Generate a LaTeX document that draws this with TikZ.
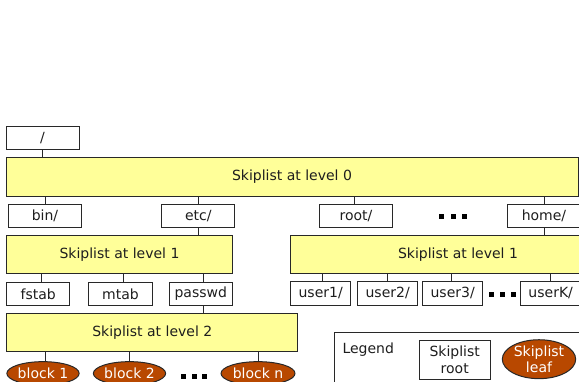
\documentclass[tikz,border=0pt]{standalone}
\usepackage{fontspec}
\setmainfont{DejaVu Sans}
\usetikzlibrary{shapes.geometric}
\definecolor{skipyellow}{RGB}{255,255,153}
\definecolor{leafbrown}{RGB}{184,72,0}
\definecolor{linegray}{RGB}{40,40,40}
\definecolor{textgray}{RGB}{30,30,30}
\tikzset{
  every node/.style={font=\fontsize{14}{16.7}\selectfont, text=textgray, inner sep=0pt},
  entrybox/.style={draw=linegray, line width=1pt, fill=white, minimum height=23.4pt},
  levelbox/.style={draw=linegray, line width=1pt, fill=skipyellow},
  leafnode/.style={ellipse, draw=linegray, line width=1pt, fill=leafbrown, text=white},
  conn/.style={draw=linegray, line width=1pt},
  dotsq/.style={fill=black, minimum size=5pt, draw=none},
}
\begin{document}
\begin{tikzpicture}[x=1pt,y=-1pt]
\useasboundingbox (0,0) rectangle (579,381);
\clip (0,0) rectangle (579,381);
% top level
\node[entrybox, minimum width=73pt] (rootdir) at (42.5,137.7) {/};
\node[levelbox, minimum width=572pt, minimum height=39pt] (L0) at (292,176.5) {Skiplist at level 0};
% level 0 entries
\node[entrybox, minimum width=73.4pt] (bin) at (45,215.7) {bin/};
\node[entrybox, minimum width=72.7pt] (etc) at (198.3,215.7) {etc/};
\node[entrybox, minimum width=73.4pt] (rootd) at (356,215.7) {root/};
\node[entrybox, minimum width=73pt] (home) at (544,215.7) {home/};
\node[dotsq] (d0a) at (441.8,216.5) {};
\node[dotsq] (d0b) at (453.3,216.5) {};
\node[dotsq] (d0c) at (464,216.5) {};
% level 1
\node[levelbox, minimum width=225.6pt, minimum height=38.3pt] (L1a) at (119.5,254.2) {Skiplist at level 1};
\node[levelbox, minimum width=300pt, minimum height=38.3pt] (L1b) at (440.7,254.2) {};
\node at (458,254.2) {Skiplist at level 1};
% level 1 entries
\node[entrybox, minimum width=63pt] (fstab) at (38.2,294) {fstab};
\node[entrybox, minimum width=63.6pt] (mtab) at (120.5,294) {mtab};
\node[entrybox, minimum width=63pt] (passwd) at (200.8,294) {passwd};
\node[entrybox, minimum width=60pt] (user1) at (320.7,293.4) {user1/};
\node[entrybox, minimum width=60pt] (user2) at (387.7,293.4) {user2/};
\node[entrybox, minimum width=60pt] (user3) at (452.7,293.4) {user3/};
\node[entrybox, minimum width=60pt] (userK) at (550.7,293.4) {userK/};
\node[dotsq] (d1a) at (491.5,294.2) {};
\node[dotsq] (d1b) at (502.5,294.2) {};
\node[dotsq] (d1c) at (513.5,294.2) {};
% level 2
\node[levelbox, minimum width=291.3pt, minimum height=37.7pt] (L2) at (152.3,332.2) {Skiplist at level 2};
\node[leafnode, minimum width=72.3pt, minimum height=23.5pt] (b1) at (43,373.4) {block 1};
\node[leafnode, minimum width=72.3pt, minimum height=23.5pt] (b2) at (129.5,373.4) {block 2};
\node[leafnode, minimum width=74pt, minimum height=23.5pt] (bn) at (258,373.4) {block n};
\node[dotsq] (d2a) at (183.5,376) {};
\node[dotsq] (d2b) at (194,376) {};
\node[dotsq] (d2c) at (204.5,376) {};
% legend
\node[draw=linegray, line width=1pt, fill=white, minimum width=300pt, minimum height=80pt, anchor=north west] (legend) at (334,331.7) {};
\node[anchor=west] (legendtxt) at (342.3,350) {Legend};
\node[entrybox, minimum width=70.7pt, minimum height=39pt, align=center] (lroot) at (454.7,359.5) {Skiplist\\root};
\node[leafnode, minimum width=73.4pt, minimum height=38pt, align=center] (lleaf) at (539,359.2) {Skiplist\\leaf};
% connectors
\draw[conn] (rootdir.south) -- (rootdir.south |- L0.north);
\draw[conn] (bin.north) -- (bin.north |- L0.south);
\draw[conn] (etc.north) -- (etc.north |- L0.south);
\draw[conn] ([xshift=-1.7pt]rootd.north) -- ([xshift=-1.7pt]rootd.north |- L0.south);
\draw[conn] (home.north) -- (home.north |- L0.south);
\draw[conn] (etc.south) -- (etc.south |- L1a.north);
\draw[conn] (home.south) -- (home.south |- L1b.north);
\draw[conn] ([xshift=3pt]fstab.north) -- ([xshift=3pt]fstab.north |- L1a.south);
\draw[conn] ([xshift=3pt]mtab.north) -- ([xshift=3pt]mtab.north |- L1a.south);
\draw[conn] ([xshift=3pt]passwd.north) -- ([xshift=3pt]passwd.north |- L1a.south);
\draw[conn] ([xshift=3pt]passwd.south) -- ([xshift=3pt]passwd.south |- L2.north);
\draw[conn] ([xshift=2pt]user1.north) -- ([xshift=2pt]user1.north |- L1b.south);
\draw[conn] (user2.north) -- (user2.north |- L1b.south);
\draw[conn] ([xshift=-1.4pt]user3.north) -- ([xshift=-1.4pt]user3.north |- L1b.south);
\draw[conn] (userK.north) -- (userK.north |- L1b.south);
\draw[conn] ([xshift=2.3pt]b1.north) -- ([xshift=2.3pt]b1.north |- L2.south);
\draw[conn] (b2.north) -- (b2.north |- L2.south);
\draw[conn] (bn.north) -- (bn.north |- L2.south);
\end{tikzpicture}
\end{document}
